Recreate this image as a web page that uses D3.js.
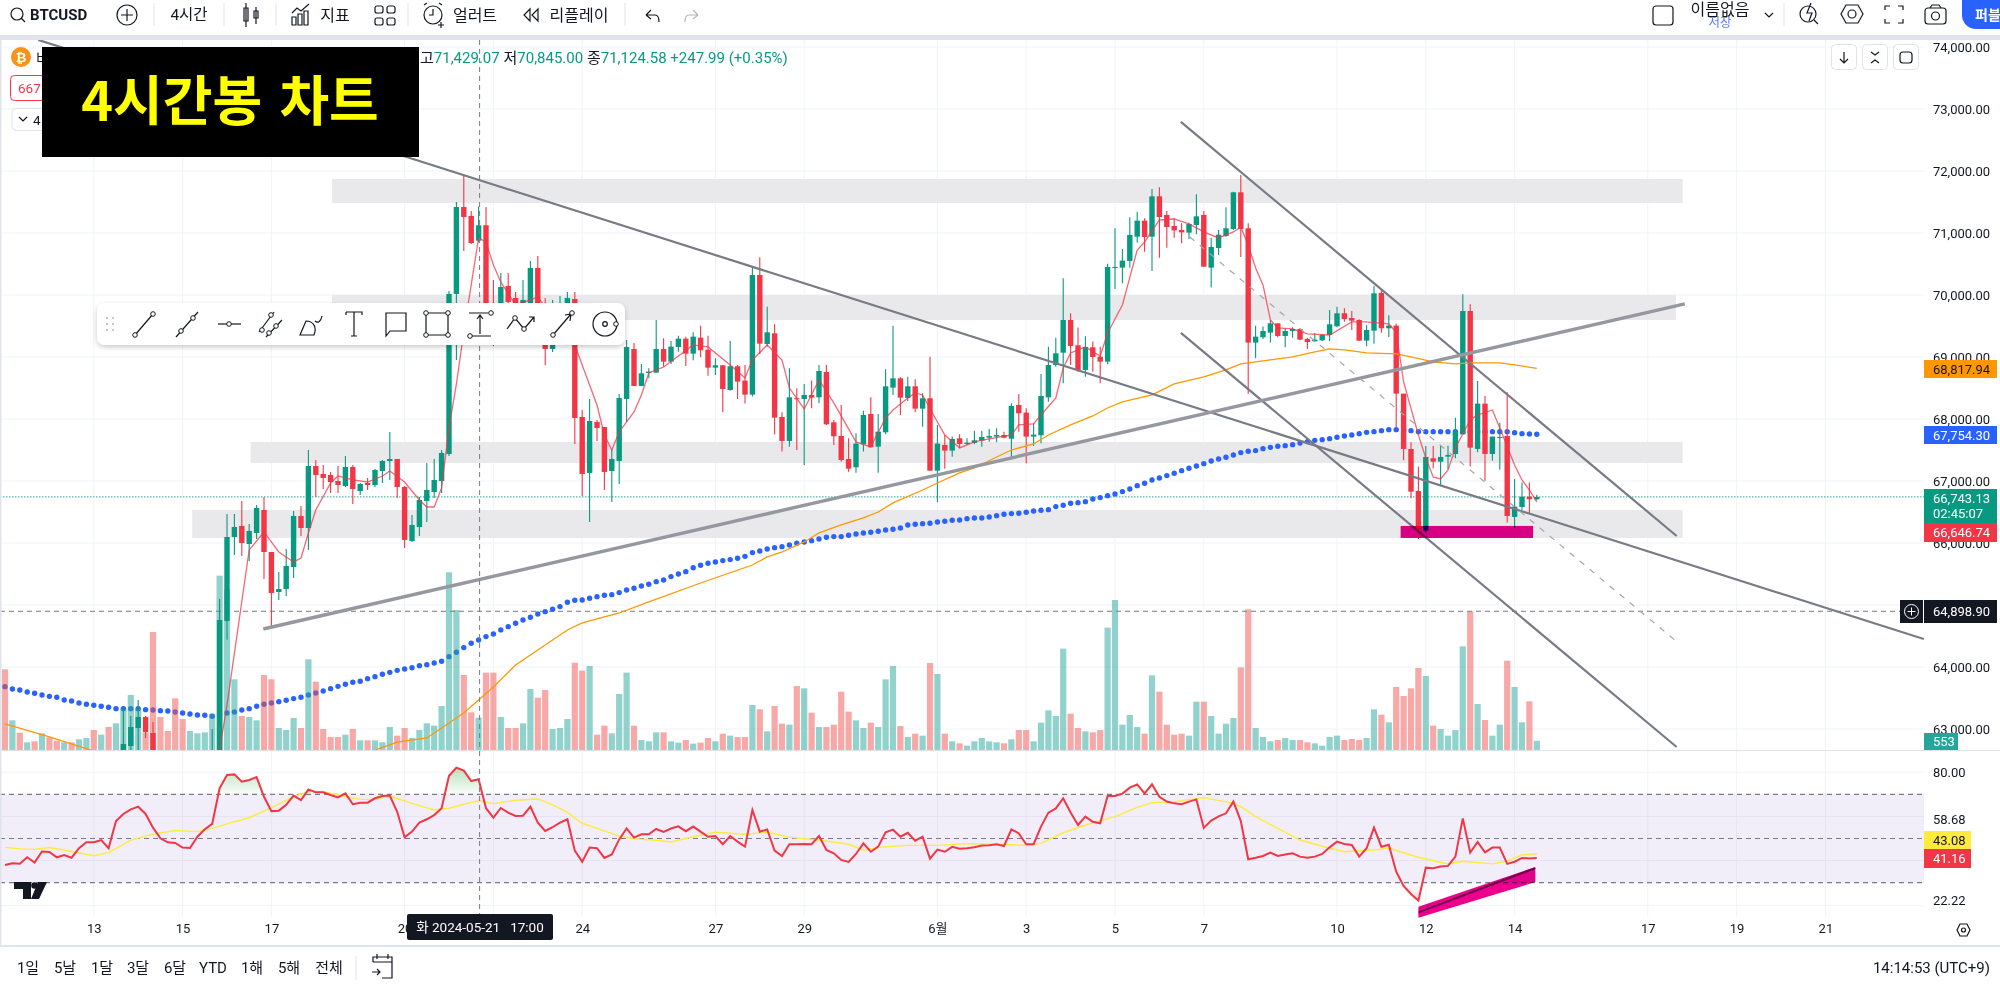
<!DOCTYPE html>
<html>
<head>
<meta charset="utf-8">
<title>BTCUSD 4h</title>
<style>
    html, body { margin: 0; padding: 0; background: #fff; overflow: hidden; }
    svg { display: block; }
    text { font-family: Roboto, "Noto Sans CJK KR", sans-serif; }
    .axis path { display: none; }
    .axis line { display: none; }
    .axis text { font-size: 13px; fill: #131722; }
    .ico { fill: none; stroke: #131722; stroke-width: 1.2; }
</style>
</head>
<body>
<script src="https://d3js.org/d3.v7.min.js"></script>
<script>
// candles, one per 4h bar
let opens = [62100,61800,62050,61850,61950,61850,62100,62000,61850,62000,
    61900,62100,62250,62050,62250,62000,62350,62726,63016,63194,
    62936,62100,61800,61600,61300,61150,61350,61600,61800,62400,
    64742,66097,66275,65984,66162,66533,65855,65210,65258,65613,
    66436,66242,67242,67113,67097,67000,66920,67226,66839,66968,
    66936,67162,67323,67355,66904,66033,66258,66678,66823,67000,
    67436,70017,71420,71275,70877,71125,69791,69727,70146,69952,
    69727,69840,70436,69678,69130,69355,69597,69936,68033,67130,
    67952,67872,67162,67323,68323,69130,68533,68742,68748,69129,
    68925,69162,69296,69054,69312,69119,68828,68866,68468,68850,
    68619,68393,70323,69210,69382,68033,67646,68334,68323,68388,
    68350,68758,67947,67726,67355,67221,67592,68081,67554,67785,
    68506,68656,68339,68527,68167,68334,67167,67581,67490,67689,
    67597,67614,67651,67699,67716,67742,67683,68226,68103,67716,
    67737,68350,68871,69070,69597,69189,68791,69156,69006,68925,
    70441,70441,70549,70941,71199,70941,71592,71291,71113,71049,
    71006,71129,71291,70441,70758,70952,71065,71656,71076,69232,
    69318,69393,69543,69339,69420,69452,69291,69253,69269,69355,
    69495,69705,69629,69597,69264,69425,70033,69463,69506,68409,
    67517,66839,66200,67366,67312,67393,67436,67753,69742,67517,
    68248,67436,67694,67726,66420,66581,66748,66705];
let highs = [62300,62150,62200,62000,62100,62150,62250,62100,62050,62100,
    62150,62300,62400,62300,62350,62400,63339,63210,63468,63210,
    63113,62300,62000,61800,61500,61450,61700,61900,63000,65097,
    66468,66468,66678,66307,66613,66743,65855,65533,65904,66516,
    66597,67500,67339,67258,67146,67242,67404,67258,66968,67049,
    67194,67339,67791,67355,66920,66452,66743,67291,67355,67500,
    70065,71501,71920,71356,71429,71420,70242,70355,70355,70049,
    70242,70549,70630,69952,69920,69985,70049,70049,68146,68323,
    67984,67872,67517,68404,69275,69226,68888,68818,69597,69301,
    69258,69344,69328,69398,69506,69344,68979,68871,69258,68871,
    68871,70441,70608,69812,69527,68108,68818,68495,68565,68619,
    68871,68871,67984,68226,67689,67769,68135,68350,68081,68801,
    69506,68672,68683,68640,68414,69006,67904,67742,67716,67753,
    67689,67812,67812,67839,67850,67796,68253,68404,68172,67931,
    68726,69167,69312,70269,69705,69474,69334,69248,69167,70506,
    71076,70742,71253,71344,71237,71710,71737,71355,71237,71156,
    71167,71624,71355,70925,71049,71414,71667,71936,71156,69506,
    69490,69597,69543,69463,69479,69463,69312,69382,69366,69758,
    69812,69785,69742,69608,69516,70151,70097,69672,69538,68409,
    67624,67232,67565,67565,67565,67570,68022,70011,69850,68613,
    68371,67716,67941,68431,67033,66974,66974,66780];
let lows = [61700,61650,61700,61750,61800,61800,61950,61800,61800,61850,
    61850,62050,62000,62000,61950,61950,62200,62661,62661,62855,
    61950,61700,61500,61200,61000,61050,61250,61500,61700,62300,
    64440,65807,65791,65710,66065,65420,64629,65081,65145,65436,
    66113,65887,66742,66871,66807,66807,66904,66630,66775,66855,
    66904,66968,67017,66726,65920,66017,66113,66339,66726,66807,
    67404,68952,70710,70823,70845,69400,69178,69517,69597,69436,
    69517,69759,69597,68872,69081,69275,69517,67597,66759,66339,
    67646,66855,66662,66952,67952,68533,68530,68656,68745,68844,
    68888,69086,68855,68947,68995,68699,68710,68108,68457,68323,
    68248,68361,69049,69167,67753,67474,67554,67500,67259,68172,
    68253,67904,67581,67312,67151,67135,67474,67544,67135,67753,
    68388,68065,68291,68108,67877,67167,66657,67199,67393,67527,
    67581,67592,67554,67635,67624,67689,67355,67796,67285,67570,
    67608,68280,68844,68576,68871,68764,68683,68764,68576,68882,
    70097,70189,70441,70844,70699,70387,70602,70764,70925,70834,
    70903,70979,70457,70119,70645,70941,71049,70613,68409,68979,
    69291,69232,69318,69156,69312,69269,69129,69248,69258,69258,
    69484,69570,69436,69258,69172,69215,69393,69323,67866,67334,
    66721,66065,66167,67205,66925,67194,67366,67753,67232,67463,
    67006,67328,67183,66329,66237,66533,66479,66689];
let closes = [61800,62050,61850,61950,61850,62100,62000,61850,62000,61900,
    62100,62250,62050,62250,62000,62350,62758,63032,63194,62952,
    62100,61800,61600,61300,61150,61350,61600,61800,62400,64758,
    66097,66258,66000,66194,66565,65855,65194,65258,65630,66436,
    66242,67242,67097,67049,66984,66936,67226,66871,66952,66936,
    67178,67323,67355,66904,66049,66291,66694,66855,67017,67452,
    70017,71420,71259,70839,71125,69500,69404,70130,69888,69759,
    69920,70436,69759,69130,69355,69597,69952,68017,67113,67968,
    67855,67146,67355,68339,69162,68533,68737,68764,69129,68925,
    69167,69296,69054,69328,69108,68828,68866,68484,68850,68603,
    68393,70323,69215,69398,68022,67646,68350,68318,68388,68345,
    68775,67914,67721,67339,67199,67603,68065,67544,67796,68527,
    68656,68345,68527,68167,68334,67167,67603,67490,67678,67597,
    67619,67656,67710,67726,67742,67699,68210,68092,67716,67748,
    68371,68871,69060,69597,69178,68791,69162,69000,68925,70452,
    70452,70554,70968,71199,70936,71592,71258,71097,71043,71011,
    71145,71269,70457,70774,70973,71076,71656,71065,69232,69328,
    69420,69543,69339,69420,69452,69280,69242,69280,69355,69527,
    69705,69613,69586,69264,69436,70027,69463,69506,68409,67517,
    66828,66200,67388,67312,67388,67420,67796,69742,67538,68248,
    67436,67716,67710,66436,66587,66748,66705,66743];
let volumes = [4840,1780,1040,460,520,1000,760,560,460,460,
    640,720,1200,920,1380,1600,2480,3300,2500,1060,
    7080,1980,1140,3100,1860,1140,1000,1060,2180,10460,
    9640,4240,2040,1980,1780,4500,4240,1320,1200,1920,
    1320,5440,4100,1260,780,780,920,1260,580,580,
    580,460,1380,860,1320,720,1200,1600,1460,2640,
    10660,8400,4500,2260,1940,4640,4640,1980,1320,1320,
    1600,3660,3140,3600,1260,1320,1860,5240,4760,5040,
    920,1460,1000,3360,4640,1460,600,520,1060,1060,
    520,440,600,380,440,720,520,980,860,780,
    780,2700,2440,1120,2640,1580,1520,3840,3700,2240,
    1380,1380,1520,3500,2300,1780,1320,1640,1380,4240,
    5040,1440,780,980,860,5220,4560,980,520,400,
    260,520,720,520,460,400,640,1200,1200,520,
    1640,2380,2040,6080,2180,1320,1120,1060,1200,7340,
    9000,1520,2100,1380,980,4480,3500,1520,920,980,
    860,2900,2900,2040,980,1580,1920,4960,8440,1320,
    780,520,600,720,600,600,460,400,260,780,
    860,600,660,600,720,2440,2120,1660,3780,3240,
    3700,4920,4440,1460,1260,860,1200,6220,8320,2760,
    1800,860,1520,5360,3780,1660,2920,553];

// slow average, drawn as dots, one per bar
let slowMa = [63683,63645,63629,63597,63576,63549,63527,63511,63468,63452,
    63420,63398,63382,63366,63350,63328,63328,63328,63328,63312,
    63307,63296,63291,63275,63258,63242,63226,63221,63205,63231,
    63258,63275,63307,63328,63366,63398,63420,63441,63463,63490,
    63511,63549,63581,63613,63651,63688,63721,63753,63769,63812,
    63844,63882,63914,63946,63968,63989,64022,64038,64065,64092,
    64167,64237,64313,64382,64436,64490,64533,64598,64651,64705,
    64759,64802,64856,64893,64931,64974,65044,65076,65081,65108,
    65135,65157,65167,65200,65243,65270,65307,65334,65377,65404,
    65458,65501,65538,65600,65640,65673,65694,65716,65732,65753,
    65785,65845,65872,65904,65925,65941,65968,65995,66017,66038,
    66065,66092,66103,66103,66124,66146,66162,66173,66189,66210,
    66221,66243,66291,66302,66312,66318,66339,66350,66366,66372,
    66393,66404,66404,66420,66441,66463,66474,66479,66495,66517,
    66528,66538,66587,66608,66640,66651,66667,66710,66732,66764,
    66791,66829,66871,66925,66963,67017,67049,67087,67124,67167,
    67205,67242,67280,67323,67355,67382,67420,67458,67479,67490,
    67522,67543,67560,67570,67586,67613,67635,67656,67667,67683,
    67705,67726,67742,67764,67785,67796,67812,67828,67828,67823,
    67812,67796,67796,67796,67796,67796,67796,67796,67796,67796,
    67796,67796,67796,67796,67780,67764,67759,67754];

// fast average, read at its bends
let fastBars = [29,30,33,35,37,39,40,41,42,44,45,47,49,51,52,54,56,57,58,59,60,61,62,64,65,66,67,69,71,72,77,80,81,82,83,85,86,87,89,91,93,95,98,100,101,103,105,106,108,110,112,115,117,119,120,122,123,124,126,127,129,131,133,136,137,139,140,142,143,144,146,148,149,151,153,154,156,158,160,162,164,166,167,168,169,170,171,172,174,176,179,182,184,187,188,189,191,192,193,194,195,196,198,199,201,202,204,205,206,207];
let fastVals = [62661,63388,65888,66178,65855,65694,65758,66162,66533,66968,67081,67017,66984,67081,67162,66984,66694,66581,66581,66888,67855,68565,69404,70920,70855,70485,70210,69839,69920,69968,69194,68226,67742,67500,67791,68114,68388,68742,68839,69017,69194,69162,68872,68662,68952,69194,68952,68500,68162,68630,68259,67630,67549,68017,68146,68339,68420,68388,67952,67742,67533,67630,67678,67742,67904,67920,68065,68339,68823,69065,69162,69017,69388,69839,70726,70855,71210,71226,71146,71017,70920,71017,71098,70807,70436,70162,69597,69468,69452,69372,69355,69565,69565,69533,69404,68597,67742,67372,67065,67033,67178,67533,67985,68065,68146,67855,67259,67017,66855,66662];

// orange average, read at its bends
let midBars = [0,6,12,20,35,50,53,57,59,62,66,69,73,76,78,83,87,94,101,103,105,108,110,113,116,118,120,124,126,129,131,134,136,139,141,144,147,149,151,155,158,162,165,167,171,174,177,179,181,184,188,190,193,196,198,202,204,207];
let midVals = [63081,62871,62645,62016,61900,62661,62790,62855,63016,63258,63678,64032,64355,64597,64710,64871,65049,65355,65645,65775,65855,66017,66162,66291,66404,66500,66646,66855,66968,67130,67210,67387,67500,67597,67742,67904,68049,68178,68275,68388,68565,68678,68791,68888,68952,69001,69081,69130,69114,69065,69049,69001,68920,68888,68904,68904,68872,68818];

// RSI pane
let rsiVals = [38.0,38.8,38.6,41.5,39.1,44.1,43.9,41.5,42.5,41.3,
    45.6,48.3,48.3,49.3,45.6,57.9,61.1,63.2,64.4,61.1,
    54.9,50.1,48.3,48.0,45.9,45.7,50.8,54.2,56.6,72.7,
    78.7,79.0,75.7,76.5,77.8,68.9,62.4,62.6,65.2,69.4,
    67.4,72.2,70.9,70.9,69.7,68.6,70.4,65.5,66.2,66.2,
    68.2,69.2,69.4,62.1,50.5,53.1,57.2,58.7,60.6,63.7,
    78.4,82.0,80.7,76.0,76.8,63.7,59.4,63.8,61.7,60.2,
    60.3,64.4,57.2,53.4,55.1,57.2,58.7,44.5,39.5,45.9,
    45.6,41.2,42.8,49.6,54.6,50.4,51.9,51.9,54.3,53.0,
    54.5,55.5,53.3,55.4,
    53.1,50.8,51.1,47.4,51.1,48.6,46.3,62.9,53.1,54.1,
    44.5,42.1,47.4,47.4,47.5,47.4,51.1,44.8,43.3,40.3,
    39.4,43.0,47.8,44.0,46.3,52.8,54.0,50.8,52.6,49.0,
    50.8,40.9,45.0,44.0,46.2,45.4,45.6,46.0,46.8,46.9,
    47.4,46.6,54.1,52.3,47.4,47.4,55.4,61.7,63.6,68.2,
    61.8,56.1,59.9,57.6,56.9,69.2,69.2,70.3,73.0,74.5,
    70.4,74.5,68.9,66.7,65.9,65.5,66.7,67.7,54.8,58.1,
    60.0,61.4,66.7,57.9,40.6,41.3,42.1,43.6,42.1,42.8,
    43.3,41.8,41.3,41.8,43.0,46.0,48.6,47.5,
    47.1,41.8,45.6,54.9,46.3,47.2,35.0,28.5,24.9,21.9,
    36.8,36.5,37.3,37.6,41.8,59.1,43.6,48.4,43.7,45.9,
    45.9,38.5,39.5,41.2,41.0,41.16];
let rsiMaBars = [0,2,4,6,9,12,14,17,20,23,26,28,31,33,36,39,41,43,45,48,50,52,55,58,60,63,64,66,69,72,74,76,78,80,83,85,88,90,93,96,100,103,106,110,114,116,119,122,126,130,134,138,140,143,146,150,153,155,158,162,166,167,169,172,175,179,181,185,187,191,195,197,201,203,205,207];
let rsiMaVals = [46.0,45.3,45.1,45.9,44.1,42.2,43.6,49.3,52.0,53.6,53.1,54.6,57.6,59.4,64.0,68.9,71.2,71.2,69.7,67.7,67.7,69.2,65.9,62.9,63.7,66.4,67.1,65.8,67.3,67.9,65.2,61.8,56.9,54.6,51.1,49.9,49.2,48.4,50.8,52.8,51.9,52.8,50.5,49.3,47.4,44.8,46.3,46.9,46.9,47.7,47.4,46.9,47.8,52.6,56.1,59.9,64.1,66.2,66.7,68.5,65.9,64.4,59.9,54.6,49.3,45.6,44.0,44.8,45.6,41.5,38.5,39.7,38.5,39.8,42.6,43.08];
let rsiLevels = [70, 50, 30];
let rsiGrid = [80, 59.9, 40, 19.6];
let rsiTicks = [80, 58.68, 22.22];

// axes
let priceTicks = [74000,73000,72000,71000,70000,69000,68000,67000,66000,65000,64000,63000];
let timeTickBars = [12,24,36,54,66,78,96,108,126,138,150,162,180,192,204,222,234,246];
let timeTickLabels = ['13','15','17','20','22','24','27','29','6월','3','5','7','10','12','14','17','19','21'];
let rangeLabels = ['1일','5날','1달','3달','6달','YTD','1해','5해','전체'];

// hand drawn things on the chart, in bar index and price
let bands = [[44.2,226.7,71872,71485],[44.2,225.8,70001,69597],[33.2,226.7,67630,67291],[25.3,226.7,66533,66081]];
let thinLines = [[4.5,74114,259.3,64452],[158.9,72791,225.9,66113],[158.9,69388,225.9,62710]];
let thickLine = [[34.9,64613],[227,69856]];
let dashLine = [[160.1,70936],[225.8,64420]];
let lastPrice = 66743.13, markPrice = 64898.9, crossBar = 64;
let brushBox = [188.6,206.5,66275,66081];
let rsiBrushLine = [[191,16.6],[206.8,36.6]];
let rsiBrush = [[191,19.1,14.1],[206.8,37.1,30.3]];

let width = 2000, height = 985, paneRight = 1924;
let green = '#089981', red = '#f23645';

let x = d3.scaleLinear().domain([0, 207]).range([5, 1536.8]);
let y = d3.scaleLinear().domain([63000, 74000]).range([729, 47]);
let yVol = d3.scaleLinear().domain([0, 9000]).range([750, 600]);
let yRsi = d3.scaleLinear().domain([30, 70]).range([882.7, 794.3]);
let bars = d3.range(opens.length);

let svg = d3.select('body').append('svg').attr('width', width).attr('height', height);
let defs = svg.append('defs');
defs.append('clipPath').attr('id', 'priceClip').append('rect').attr('x', 0).attr('y', 40).attr('width', paneRight).attr('height', 710);
defs.append('clipPath').attr('id', 'overClip').append('rect').attr('x', 0).attr('y', 750).attr('width', paneRight).attr('height', yRsi(70) - 750);
defs.append('clipPath').attr('id', 'underClip').append('rect').attr('x', 0).attr('y', yRsi(30)).attr('width', paneRight).attr('height', 40);
let gradG = defs.append('linearGradient').attr('id', 'overFill').attr('gradientUnits', 'userSpaceOnUse').attr('x1', 0).attr('x2', 0).attr('y1', 772).attr('y2', yRsi(70));
gradG.append('stop').attr('offset', '0%').attr('stop-color', '#4caf50').attr('stop-opacity', 0.32);
gradG.append('stop').attr('offset', '100%').attr('stop-color', '#4caf50').attr('stop-opacity', 0.03);
let gradR = defs.append('linearGradient').attr('id', 'underFill').attr('gradientUnits', 'userSpaceOnUse').attr('x1', 0).attr('x2', 0).attr('y1', yRsi(30)).attr('y2', 905);
gradR.append('stop').attr('offset', '0%').attr('stop-color', red).attr('stop-opacity', 0.02);
gradR.append('stop').attr('offset', '100%').attr('stop-color', red).attr('stop-opacity', 0.2);

function txt(g, px, py, s, size, color, anchor, weight) {
    return g.append('text').attr('x', px).attr('y', py).attr('dy', '0.35em')
        .attr('font-size', size).attr('fill', color).attr('text-anchor', anchor || 'middle')
        .attr('font-weight', weight || 400).text(s);
}

// ---- grid
let grid = svg.append('g').attr('stroke', '#f0f3fa');
grid.selectAll('.vg').data(timeTickBars).enter().append('line')
    .attr('x1', d => x(d)).attr('x2', d => x(d)).attr('y1', 40).attr('y2', 916);
grid.selectAll('.hg').data(priceTicks).enter().append('line')
    .attr('x1', 0).attr('x2', paneRight).attr('y1', d => y(d)).attr('y2', d => y(d));
grid.selectAll('.rg').data(rsiGrid).enter().append('line')
    .attr('x1', 0).attr('x2', paneRight).attr('y1', d => yRsi(d)).attr('y2', d => yRsi(d));

// ---- rsi pane
let rsiPane = svg.append('g');
rsiPane.append('rect').attr('x', 0).attr('width', paneRight).attr('y', yRsi(70)).attr('height', yRsi(30) - yRsi(70))
    .attr('fill', '#7e57c2').attr('fill-opacity', 0.1);
rsiPane.selectAll('.rl').data(rsiLevels).enter().append('line')
    .attr('x1', 0).attr('x2', paneRight).attr('y1', d => yRsi(d)).attr('y2', d => yRsi(d))
    .attr('stroke', '#787b86').attr('stroke-width', 1.2).attr('stroke-dasharray', '5 4');
rsiPane.append('path').datum(bars).attr('clip-path', 'url(#overClip)').attr('fill', 'url(#overFill)')
    .attr('d', d3.area().x(i => x(i)).y0(yRsi(70)).y1(i => yRsi(rsiVals[i])));
rsiPane.append('path').datum(bars).attr('clip-path', 'url(#underClip)').attr('fill', 'url(#underFill)')
    .attr('d', d3.area().x(i => x(i)).y0(yRsi(30)).y1(i => yRsi(rsiVals[i])));
rsiPane.append('path').datum(rsiMaBars).attr('fill', 'none').attr('stroke', '#ffeb3b').attr('stroke-width', 1.4)
    .attr('d', d3.line().x(b => x(b)).y((b, k) => yRsi(rsiMaVals[k])));
rsiPane.append('path').datum(bars).attr('fill', 'none').attr('stroke', red).attr('stroke-width', 2)
    .attr('d', d3.line().x(i => x(i)).y(i => yRsi(rsiVals[i])));
let rsiLine = d3.line().x(d => x(d[0])).y(d => yRsi(d[1]));
rsiPane.append('path').attr('d', rsiLine(rsiBrushLine)).attr('stroke', '#787b86').attr('stroke-width', 2).attr('fill', 'none');
rsiPane.append('path').datum(rsiBrush).attr('fill', '#ec008c').style('mix-blend-mode', 'multiply')
    .attr('d', d3.area().x(d => x(d[0])).y0(d => yRsi(d[1])).y1(d => yRsi(d[2])));

// ---- price pane
let price = svg.append('g').attr('clip-path', 'url(#priceClip)');
price.selectAll('.band').data(bands).enter().append('rect')
    .attr('x', d => x(d[0])).attr('width', d => x(d[1]) - x(d[0]))
    .attr('y', d => y(d[2])).attr('height', d => y(d[3]) - y(d[2])).attr('fill', '#e9e9ec');
price.append('line').attr('x1', 0).attr('x2', paneRight).attr('y1', y(lastPrice)).attr('y2', y(lastPrice))
    .attr('stroke', green).attr('stroke-opacity', 0.7).attr('stroke-width', 1.2).attr('stroke-dasharray', '1.5 1.5');
price.append('line').attr('x1', 0).attr('x2', paneRight).attr('y1', y(markPrice)).attr('y2', y(markPrice))
    .attr('stroke', '#787b86').attr('stroke-dasharray', '5 4');

price.selectAll('.ma').data(bars).enter().append('circle')
    .attr('cx', i => x(i)).attr('cy', i => y(slowMa[i])).attr('r', 2.7).attr('fill', '#2962ff');

price.selectAll('.vol').data(bars).enter().append('rect')
    .attr('x', i => x(i) - 3.1).attr('width', 6.2)
    .attr('y', i => yVol(volumes[i])).attr('height', i => 750 - yVol(volumes[i]))
    .attr('fill', i => closes[i] >= opens[i] ? '#26a69a' : '#ef5350').attr('fill-opacity', 0.5);

price.selectAll('.wick').data(bars).enter().append('line')
    .attr('x1', i => x(i)).attr('x2', i => x(i)).attr('y1', i => y(highs[i])).attr('y2', i => y(lows[i]))
    .attr('stroke', i => closes[i] >= opens[i] ? green : red).attr('stroke-width', 1.1);
price.selectAll('.body').data(bars).enter().append('rect')
    .attr('x', i => x(i) - 2.7).attr('width', 5.4)
    .attr('y', i => y(Math.max(opens[i], closes[i])))
    .attr('height', i => Math.max(1, Math.abs(y(opens[i]) - y(closes[i]))))
    .attr('fill', i => closes[i] >= opens[i] ? green : red);

price.append('path').datum(midBars).attr('fill', 'none').attr('stroke', '#ff9800').attr('stroke-width', 1.3)
    .attr('d', d3.line().x(b => x(b)).y((b, k) => y(midVals[k])));
price.append('path').datum(fastBars).attr('fill', 'none').attr('stroke', '#f23645').attr('stroke-opacity', 0.75).attr('stroke-width', 1.3)
    .attr('d', d3.line().x(b => x(b)).y((b, k) => y(fastVals[k])));

price.selectAll('.tl').data(thinLines).enter().append('line')
    .attr('x1', d => x(d[0])).attr('y1', d => y(d[1])).attr('x2', d => x(d[2])).attr('y2', d => y(d[3]))
    .attr('stroke', '#787b86').attr('stroke-width', 2.2);
let priceLine = d3.line().x(d => x(d[0])).y(d => y(d[1]));
price.append('path').attr('d', priceLine(thickLine)).attr('stroke', '#9598a1').attr('stroke-width', 3.4).attr('fill', 'none');
price.append('path').attr('d', priceLine(dashLine)).attr('stroke', '#a3a6af').attr('stroke-width', 1.2).attr('stroke-dasharray', '6 7').attr('fill', 'none');
price.append('rect').attr('x', x(brushBox[0])).attr('width', x(brushBox[1]) - x(brushBox[0]))
    .attr('y', y(brushBox[2])).attr('height', y(brushBox[3]) - y(brushBox[2]))
    .attr('fill', '#ec008c').style('mix-blend-mode', 'multiply');

// crosshair
svg.append('line').attr('x1', x(crossBar) + 1).attr('x2', x(crossBar) + 1).attr('y1', 40).attr('y2', 916)
    .attr('stroke', '#787b86').attr('stroke-dasharray', '5 4');

// pane frames
svg.append('rect').attr('x', 0).attr('y', 750).attr('width', width).attr('height', 1).attr('fill', '#e0e3eb');
svg.append('rect').attr('x', 0).attr('y', 945).attr('width', width).attr('height', 2).attr('fill', '#e0e3eb');
svg.append('rect').attr('x', 0).attr('y', 40).attr('width', 1.5).attr('height', 905).attr('fill', '#e0e3eb');

// ---- axes
svg.append('g').attr('class', 'axis').attr('transform', 'translate(1924,0)')
    .call(d3.axisRight(y).tickValues(priceTicks).tickSize(0).tickPadding(9).tickFormat(d3.format(',.2f')));
svg.append('g').attr('class', 'axis').attr('transform', 'translate(0,916)')
    .call(d3.axisBottom(x).tickValues(timeTickBars).tickSize(0).tickPadding(8).tickFormat((d, i) => timeTickLabels[i]));
svg.append('g').attr('class', 'axis').attr('transform', 'translate(1924,0)')
    .call(d3.axisRight(yRsi).tickValues(rsiTicks).tickSize(0).tickPadding(9).tickFormat(d3.format('.2f')));

// price tags
function tag(yTop, yBot, bg, color, label, wide) {
    svg.append('rect').attr('x', 1924).attr('y', yTop).attr('width', wide || 73).attr('height', yBot - yTop).attr('fill', bg);
    txt(svg, 1933, (yTop + yBot) / 2, label, 13, color, 'start');
}
tag(360, 378, '#ff9800', '#131722', '68,817.94');
tag(426, 444, '#2962ff', '#fff', '67,754.30');
tag(489, 523, green, '#fff', '');
txt(svg, 1933, 498, '66,743.13', 13, '#fff', 'start');
txt(svg, 1933, 513, '02:45:07', 13, '#fff', 'start');
tag(523, 542, red, '#fff', '66,646.74');
tag(600, 623, '#131722', '#fff', '64,898.90');
tag(733, 750, '#26a69a', '#fff', '553', 34);
tag(831, 849, '#ffeb3b', '#131722', '43.08', 47);
tag(849, 868, red, '#fff', '41.16', 47);
svg.append('rect').attr('x', 1900).attr('y', 600).attr('width', 23).attr('height', 23).attr('fill', '#131722');
svg.append('circle').attr('cx', 1911.5).attr('cy', 611.5).attr('r', 7).attr('fill', 'none').attr('stroke', '#fff');
svg.append('path').attr('d', 'M1907.5 611.5h8M1911.5 607.5v8').attr('stroke', '#fff');

// crosshair time tag
svg.append('rect').attr('x', 407).attr('y', 914).attr('width', 146).attr('height', 26).attr('rx', 2).attr('fill', '#131722');
txt(svg, 480, 927, '화 2024-05-21   17:00', 13.5, '#fff').style('white-space', 'pre');

// ---- legend stuff top left
svg.append('circle').attr('cx', 21).attr('cy', 57).attr('r', 10).attr('fill', '#f7931a');
txt(svg, 21, 57, '₿', 13, '#fff', 'middle', 700);
txt(svg, 36, 58, '비', 14, '#131722', 'start');
svg.append('rect').attr('x', 10.5).attr('y', 75.5).attr('width', 40).attr('height', 25).attr('rx', 4).attr('fill', '#fff').attr('stroke', red);
txt(svg, 18, 88, '667', 13.5, red, 'start');
svg.append('rect').attr('x', 12).attr('y', 108.5).attr('width', 40).attr('height', 22).attr('rx', 4).attr('fill', '#fff').attr('stroke', '#e0e3eb');
svg.append('path').attr('d', 'M19 117l4 4 4-4').attr('class', 'ico');
txt(svg, 33, 120, '4', 13.5, '#131722', 'start');

let legend = svg.append('text').attr('x', 420).attr('y', 58).attr('dy', '0.35em').attr('font-size', 15);
[['고', '#131722'], ['71,429.07 ', green], ['저', '#131722'], ['70,845.00 ', green], ['종', '#131722'], ['71,124.58 ', green], ['+247.99 (+0.35%)', green]]
    .forEach(p => legend.append('tspan').attr('fill', p[1]).text(p[0]));

// big black title box
svg.append('rect').attr('x', 42).attr('y', 47).attr('width', 377).attr('height', 110).attr('fill', '#000');
svg.append('text').attr('x', 230).attr('y', 102).attr('dy', '0.35em').attr('text-anchor', 'middle')
    .attr('font-size', 54).attr('font-weight', 700).attr('fill', '#ffff00').attr('word-spacing', 5)
    .style('font-family', '"Noto Sans CJK KR", sans-serif').text('4시간봉 차트');

// floating drawing toolbar
defs.append('filter').attr('id', 'shadow').attr('x', '-5%').attr('y', '-20%').attr('width', '110%').attr('height', '150%')
    .append('feDropShadow').attr('dx', 0).attr('dy', 2).attr('stdDeviation', 2.5).attr('flood-color', '#000').attr('flood-opacity', 0.22);
svg.append('rect').attr('x', 97).attr('y', 303).attr('width', 528).attr('height', 42).attr('rx', 8).attr('fill', '#fff').attr('filter', 'url(#shadow)');
let tb = svg.append('g');
[318, 324, 330].forEach(py => [107, 113].forEach(px => tb.append('circle').attr('cx', px).attr('cy', py).attr('r', 1).attr('fill', '#b2b5be')));
function ring(g, px, py) { g.append('circle').attr('cx', px).attr('cy', py).attr('r', 2.3).attr('fill', '#fff').attr('stroke', '#131722'); }
function icon(cx, d, rings) {
    let g = tb.append('g').attr('transform', 'translate(' + cx + ',324)');
    g.append('path').attr('d', d).attr('class', 'ico');
    (rings || []).forEach(r => ring(g, r[0], r[1]));
}
icon(144, 'M-9 11L9-10', [[-9, 11], [9, -10]]);
icon(187, 'M-11 13L11-12', [[-6, 7], [6, -6]]);
icon(229, 'M-11 0H12', [[0, 0]]);
icon(270, 'M-11 8L4-12M-4 13L12-4', [[-8, 6], [1, -9], [-1, 9], [6, 2]]);
icon(312, 'M-12 11H2C5 4 2-3-6-3L-12 11ZM3-3C6 0 9-3 10-8');
icon(354, 'M-8-12H8V-9M-8-12V-9M0-12V12M-3 12H3');
icon(396, 'M-10-11H10V7H-6L-10 12Z');
icon(437, 'M-11-11H11V11H-11Z', [[-11, -11], [11, -11], [-11, 11], [11, 11]]);
icon(480, 'M-11-11H8M-11 12H11M0-9V10M-3-5L0-9L3-5', [[11, -11], [-10, 12]]);
icon(521, 'M-14 5L-6-6L3 5L13-7M8-7H13V-2', [[-6, -6], [3, 5]]);
icon(562, 'M-9 11L9-10M3-9L9-10L8-3', [[-9, 11], [10, -11]]);
tb.append('circle').attr('cx', 605).attr('cy', 324).attr('r', 12).attr('class', 'ico');
tb.append('circle').attr('cx', 605).attr('cy', 324).attr('r', 2.3).attr('class', 'ico');
ring(tb, 616, 324);

// right side small buttons
[1831, 1862, 1893].forEach(bx => svg.append('rect').attr('x', bx + 0.5).attr('y', 44.5).attr('width', 25).attr('height', 25).attr('rx', 4).attr('fill', '#fff').attr('stroke', '#e0e3eb'));
svg.append('path').attr('class', 'ico').attr('d', 'M1844 52v11M1840 59l4 4 4-4');
svg.append('path').attr('class', 'ico').attr('d', 'M1871 52l4 3 4-3M1871 63l4-3 4 3');
svg.append('rect').attr('class', 'ico').attr('x', 1900).attr('y', 52).attr('width', 12).attr('height', 11).attr('rx', 3);

// tv logo
svg.append('path').attr('d', 'M14 882H31V899H23V889H14ZM38 882H47L39 899H31Z').attr('fill', '#131722');
svg.append('circle').attr('cx', 34.5).attr('cy', 885.5).attr('r', 3.3).attr('fill', '#131722');

// ---- top bar
let topBar = svg.append('g');
topBar.append('rect').attr('x', 0).attr('y', 0).attr('width', width).attr('height', 35).attr('fill', '#fff');
topBar.append('rect').attr('x', 0).attr('y', 35).attr('width', width).attr('height', 5).attr('fill', '#e0e3eb');
[154, 224, 276, 408, 625, 1784].forEach(d => topBar.append('line').attr('x1', d).attr('x2', d).attr('y1', 3).attr('y2', 26).attr('stroke', '#e0e3eb'));
topBar.append('circle').attr('cx', 17).attr('cy', 14).attr('r', 6).attr('class', 'ico').attr('stroke-width', 1.6);
topBar.append('path').attr('class', 'ico').attr('stroke-width', 1.6).attr('d', 'M21 18l4 4');
txt(topBar, 30, 15, 'BTCUSD', 15, '#131722', 'start', 700);
topBar.append('circle').attr('cx', 127).attr('cy', 15).attr('r', 10).attr('class', 'ico');
topBar.append('path').attr('class', 'ico').attr('d', 'M121 15h12M127 9v12');
txt(topBar, 189, 15, '4시간', 15.5, '#131722');
topBar.append('path').attr('class', 'ico').attr('d', 'M246 3v24M246 8h-2v13h4v-13zM256 7v17M254 11h4v7h-4z');
topBar.append('path').attr('class', 'ico').attr('d', 'M292 25v-8h4v8zM298 25v-11h4v11zM304 25v-14h4v14zM292 13l5-5 4 3 8-7');
txt(topBar, 335, 15, '지표', 16, '#131722');
[[375, 6], [387, 6], [375, 18], [387, 18]].forEach(p => topBar.append('rect').attr('class', 'ico').attr('x', p[0]).attr('y', p[1]).attr('width', 8).attr('height', 7).attr('rx', 2));
topBar.append('circle').attr('cx', 433).attr('cy', 15).attr('r', 9).attr('class', 'ico');
topBar.append('path').attr('class', 'ico').attr('d', 'M433 9v6h-4M424 5l3-2M442 5l-3-2M441 22v6M438 25h6');
txt(topBar, 475, 15, '얼러트', 16, '#131722');
topBar.append('path').attr('class', 'ico').attr('d', 'M530 9l-6 6 6 6zM538 9l-6 6 6 6z');
txt(topBar, 579, 15, '리플레이', 16, '#131722');
topBar.append('path').attr('class', 'ico').attr('d', 'M646 15l5-5M646 15l5 4M646 15h9c3 0 4 3 4 7');
topBar.append('path').attr('class', 'ico').attr('style', 'stroke:#b2b5be').attr('d', 'M698 15l-5-5M698 15l-5 4M698 15h-9c-3 0-4 3-4 7');
topBar.append('rect').attr('class', 'ico').attr('x', 1653).attr('y', 6).attr('width', 20).attr('height', 19).attr('rx', 3);
txt(topBar, 1720, 9, '이름없음', 16, '#131722');
txt(topBar, 1720, 23, '저장', 12.5, '#5b7cf7');
topBar.append('path').attr('class', 'ico').attr('d', 'M1765 13l4 4 4-4');
topBar.append('circle').attr('cx', 1808).attr('cy', 14).attr('r', 8).attr('class', 'ico');
topBar.append('path').attr('class', 'ico').attr('d', 'M1811 3l-4 10h5l-3 8M1814 20l4 4');
topBar.append('path').attr('class', 'ico').attr('d', 'M1846 5h12l5 9-5 9h-12l-5-9z');
topBar.append('circle').attr('cx', 1852).attr('cy', 14).attr('r', 4).attr('class', 'ico');
topBar.append('path').attr('class', 'ico').attr('d', 'M1885 10v-4h5M1898 6h5v4M1903 19v4h-5M1890 23h-5v-4');
topBar.append('rect').attr('class', 'ico').attr('x', 1925).attr('y', 8).attr('width', 21).attr('height', 16).attr('rx', 3);
topBar.append('circle').attr('cx', 1935.5).attr('cy', 16).attr('r', 4).attr('class', 'ico');
topBar.append('path').attr('class', 'ico').attr('d', 'M1930 8l2-3h7l2 3');
topBar.append('rect').attr('x', 1962).attr('y', -15).attr('width', 60).attr('height', 44).attr('rx', 14).attr('fill', '#2962ff');
txt(topBar, 1975, 15, '퍼블', 14, '#fff', 'start', 700);

// ---- bottom bar
let rangeX = [28, 65, 102, 138, 175, 213, 252, 289, 329];
rangeLabels.forEach((s, k) => txt(svg, rangeX[k], 968, s, 15, '#131722'));
svg.append('line').attr('x1', 356).attr('x2', 356).attr('y1', 956).attr('y2', 980).attr('stroke', '#e0e3eb');
svg.append('path').attr('class', 'ico').attr('d', 'M373 962v-5h19v21h-10M373 962h19M377 954v5M388 954v5M372 972h8M377 969l3 3-3 3');
svg.append('path').attr('class', 'ico').attr('d', 'M1957 930l3-6h7l3 6-3 6h-7z');
svg.append('circle').attr('cx', 1963.5).attr('cy', 930).attr('r', 2).attr('class', 'ico');
txt(svg, 1990, 968, '14:14:53 (UTC+9)', 15, '#131722', 'end');
</script>
</body>
</html>
